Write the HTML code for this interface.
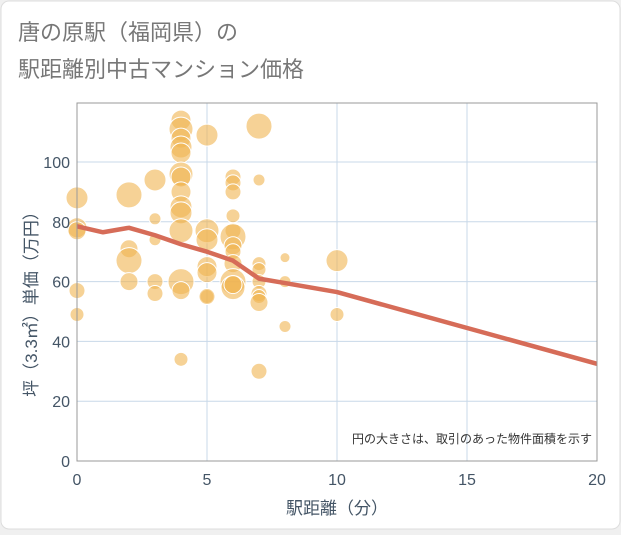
<!DOCTYPE html>
<html><head><meta charset="utf-8"><style>
body{margin:0;background:#f0f0f0;}
svg text{font-family:"Liberation Sans","Noto Sans CJK JP",sans-serif;}
</style></head><body>
<svg width="621" height="530" xmlns="http://www.w3.org/2000/svg">
<rect x="1" y="1" width="619" height="528" rx="8" fill="#fff" stroke="#ddd"/>
<text x="18" y="40" font-size="22" fill="#777">唐の原駅（福岡県）の</text>
<text x="18" y="77" font-size="22" fill="#777">駅距離別中古マンション価格</text>
<g id="grid"></g>
<g id="bubbles"></g>
<path id="trend" fill="none" stroke="#d66c58" stroke-width="4.5" stroke-linejoin="round"/>
<rect x="77" y="103" width="520" height="358" fill="none" stroke="#999"/>
<g id="ticks"></g>
<text x="592" y="443" font-size="12" fill="#333" text-anchor="end">円の大きさは、取引のあった物件面積を示す</text>
<text x="337" y="514" font-size="17" fill="#445566" text-anchor="middle">駅距離（分）</text>
<text transform="translate(37,300) rotate(-90)" font-size="17" fill="#445566" text-anchor="middle">坪（3.3㎡）単価（万円）</text>
</svg>
<script>
const xTicks=[0,5,10,15,20];
const yTicks=[0,20,40,60,80,100];
const bubbleX=[0,0,0,0,0,2,2,2,2,3,3,3,3,3,4,4,4,4,4,4,4,4,4,4,4,4,4,4,5,5,5,5,5,5,5,6,6,6,6,6,6,6,6,6,6,6,6,7,7,7,7,7,7,7,7,7,8,8,8,10,10];
const bubbleY=[88,78,77,57,49,89,71,67,60,94,81,74,60,56,114,111,108,105,103,96,95,90,85,83,77,60,57,34,109,77,74,65,63,55,55,95,93,90,82,77,75,72,70,66,60,58,59,112,94,66,64,60,56,55,53,30,68,60,45,67,49];
const bubbleR=[11,10,9,8,7,13,9,13,9,11,6,6,8,8,10,12,10,11,10,12,10,10,11,11,12,13,9,7,11,12,11,10,10,7,8,8,8,8,7,8,13,9,8,9,13,12,9,13,6,7,7,7,8,7,9,8,5,6,6,11,7];
const lineX=[0,1,2,3,4,5,6,7,8,10,20];
const lineY=[78.5,76.5,78,75.5,72.5,70,67,61,59.5,56.5,32.5];
const sx=v=>77+v*26, sy=v=>461-v*2.99;
const NS="http://www.w3.org/2000/svg";
const grid=document.getElementById('grid'),ticks=document.getElementById('ticks'),bub=document.getElementById('bubbles');
function mk(tag,attrs,parent){const e=document.createElementNS(NS,tag);for(const k in attrs)e.setAttribute(k,attrs[k]);parent.appendChild(e);return e;}
xTicks.forEach(t=>{
 const l=mk('line',{x1:sx(t),x2:sx(t),y1:103,y2:461,stroke:'#c8d8e8'},grid);
 
 
 const tx=mk('text',{x:sx(t),y:485,'font-size':16,fill:'#445566','text-anchor':'middle'},ticks);
 tx.textContent=t;
 
 
});
yTicks.forEach(t=>{
 const l=mk('line',{x1:77,x2:597,y1:sy(t),y2:sy(t),stroke:'#c8d8e8'},grid);
 
 
 const tx=mk('text',{x:70,y:sy(t)+6,'font-size':16,fill:'#445566','text-anchor':'end'},ticks);
 tx.textContent=t;
 
 
});
bubbleX.forEach((x,i)=>{
 const c=mk('circle',{cx:sx(x),cy:sy(bubbleY[i]),r:bubbleR[i],fill:'rgba(240,180,80,0.6)',stroke:'#fff','stroke-width':1},bub);
 
 
});
document.getElementById('trend').setAttribute('d',lineX.map((x,i)=>(i?'L':'M')+sx(x)+','+sy(lineY[i])).join(''));
</script>
</body></html>
